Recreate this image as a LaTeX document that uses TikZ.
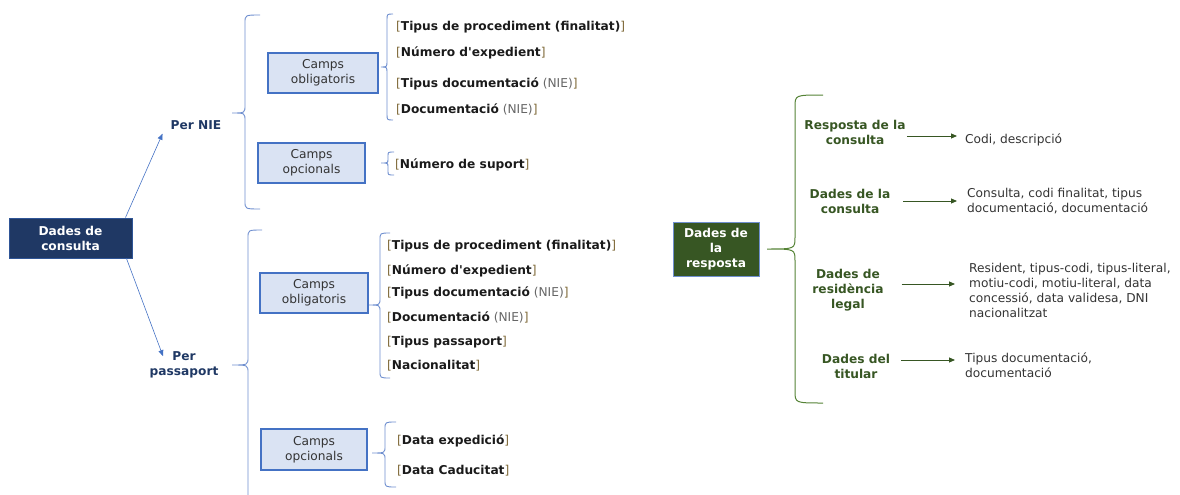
\documentclass[tikz,border=0pt]{standalone}
\usepackage{fontspec}
\setmainfont{DejaVu Sans}[Ligatures=TeXOff]
\usetikzlibrary{arrows.meta}
\definecolor{navy}{HTML}{1F3864}
\definecolor{navyedge}{HTML}{2F5597}
\definecolor{bblue}{HTML}{4472C4}
\definecolor{lblue}{HTML}{DAE3F3}
\definecolor{brace}{HTML}{6F8FCF}
\definecolor{dgreen}{HTML}{375623}
\definecolor{gbrace}{HTML}{548235}
\definecolor{brk}{HTML}{7F6A3A}
\definecolor{nie}{HTML}{666666}
\definecolor{txt}{HTML}{1A1A1A}
\definecolor{boxtxt}{HTML}{333333}
\newcommand\bk[1]{{\color{brk}[}\textbf{#1}{\color{brk}]}}
\newcommand\bkn[1]{{\color{brk}[}\textbf{#1} {\color{nie}(NIE)}{\color{brk}]}}
% brace: xe xv xt ytop ymid ybot r style
\newcommand\mybrace[8]{%
  \draw[#8] (#1,#4) .. controls (#2,#4) .. (#2,#4+#7) -- (#2,#5-#7)
    .. controls (#2,#5) and (#2,#5) .. (#3,#5)
    .. controls (#2,#5) and (#2,#5) .. (#2,#5+#7) -- (#2,#6-#7)
    .. controls (#2,#6) .. (#1,#6);}
\begin{document}
\begin{tikzpicture}[x=1pt,y=-1pt,
  every node/.style={font=\fontsize{12.2}{15}\selectfont, inner sep=0pt},
  darkbox/.style={text=white, font=\fontsize{12.2}{15}\selectfont\bfseries, align=center, line width=1pt},
  campbox/.style={draw=bblue, fill=lblue, line width=2.4pt, text=boxtxt, align=center, minimum height=40pt},
  item/.style={anchor=west, text=txt, yshift=-2pt},
  blab/.style={text=navy, font=\fontsize{12.2}{15}\selectfont\bfseries, align=center, yshift=-1.5pt},
  glab/.style={text=dgreen, font=\fontsize{12.2}{15}\selectfont\bfseries, align=center, yshift=-1.5pt},
  val/.style={anchor=west, text=boxtxt, align=left, yshift=-1.5pt},
  barrow/.style={draw=bblue, line width=0.6pt, -{Triangle[length=6pt,width=5pt]}},
  garrow/.style={draw=dgreen, line width=1pt, -{Triangle[length=6pt,width=5pt]}},
  bbr/.style={draw=brace, line width=0.9pt},
  gbr/.style={draw=gbrace, line width=1pt}]
\useasboundingbox (0,0) rectangle (1180,495);

% left root
\node[darkbox, fill=navy, draw=navyedge, minimum width=123pt, minimum height=40pt] (dc) at (70.5,238) {Dades de\\consulta};
\node[blab] (pn) at (196,124) {Per NIE};
\node[blab] (pp) at (184,363.5) {Per\\passaport};
\draw[barrow] ([xshift=-7pt]dc.north east) -- ([xshift=-8pt,yshift=-3.5pt]pn.south west);
\draw[barrow] ([xshift=-6pt]dc.south east) -- ([xshift=-21pt,yshift=-4.5pt]pp.north);

% braces left
\mybrace{260}{245}{232}{15}{113}{209}{8}{bbr}
\mybrace{262}{248}{232}{230}{365}{510}{8}{bbr}
\mybrace{393}{387}{381}{14}{67}{120}{6}{bbr}
\mybrace{394}{388}{381}{152}{163}{175}{4}{bbr}
\mybrace{390}{380}{368}{233}{305}{378}{7}{bbr}
\mybrace{396}{385}{372}{422}{453}{487}{7}{bbr}

% camp boxes
\node[campbox, minimum width=110pt] (co1) at (323,73) {Camps\\obligatoris};
\node[campbox, minimum width=107pt] (cp1) at (311.5,163) {Camps\\opcionals};
\node[campbox, minimum width=108pt] (co2) at (314,293) {Camps\\obligatoris};
\node[campbox, minimum width=106pt, minimum height=41pt] (cp2) at (314,449.5) {Camps\\opcionals};

% items NIE
\node[item] (n1) at (396,25) {\bk{Tipus de procediment (finalitat)}};
\node[item] (n2) at (396,51) {\bk{Número d'expedient}};
\node[item] (n3) at (396,82) {\bkn{Tipus documentació}};
\node[item] (n4) at (396,107) {\bkn{Documentació}};
\node[item] (n5) at (395,163) {\bk{Número de suport}};

% items passaport
\node[item] (p1) at (387,244) {\bk{Tipus de procediment (finalitat)}};
\node[item] (p2) at (387,269) {\bk{Número d'expedient}};
\node[item] (p3) at (387,291) {\bkn{Tipus documentació}};
\node[item] (p4) at (387,315) {\bkn{Documentació}};
\node[item] (p5) at (387,340) {\bk{Tipus passaport}};
\node[item] (p6) at (387,364) {\bk{Nacionalitat}};
\node[item] (p7) at (397,439) {\bk{Data expedició}};
\node[item] (p8) at (397,469) {\bk{Data Caducitat}};

% right side
\node[darkbox, fill=dgreen, draw=brace, minimum width=86pt, minimum height=54pt] (dr) at (716,249) {Dades de\\la\\resposta};
\mybrace{823}{795}{767}{95}{249}{403}{12}{gbr}

\node[glab] (l1) at (855,130.5) {Resposta de la\\consulta};
\node[glab] (l2) at (850,199.5) {Dades de la\\consulta};
\node[glab] (l3) at (848,289) {Dades de\\residència\\legal};
\node[glab] (l4) at (856,364.5) {Dades del\\titular};

\node[val] (v1) at (965,138) {Codi, descripció};
\node[val] (v2) at (967,199.5) {Consulta, codi finalitat, tipus\\documentació, documentació};
\node[val] (v3) at (969,288.5) {Resident, tipus-codi, tipus-literal,\\motiu-codi, motiu-literal, data\\concessió, data validesa, DNI\\nacionalitzat};
\node[val] (v4) at (965,363.5) {Tipus documentació,\\documentació};

\draw[garrow, shorten >=8pt, shorten <=1pt] (l1.east |- 0,136) -- (v1.west |- 0,136);
\draw[garrow, shorten >=10pt, shorten <=13pt] (l2.east |- 0,201) -- (v2.west |- 0,201);
\draw[garrow, shorten >=14pt, shorten <=18pt] (l3.east |- 0,284) -- (v3.west |- 0,284);
\draw[garrow, shorten >=10pt, shorten <=11pt] (l4.east |- 0,360) -- (v4.west |- 0,360);
\end{tikzpicture}
\end{document}
